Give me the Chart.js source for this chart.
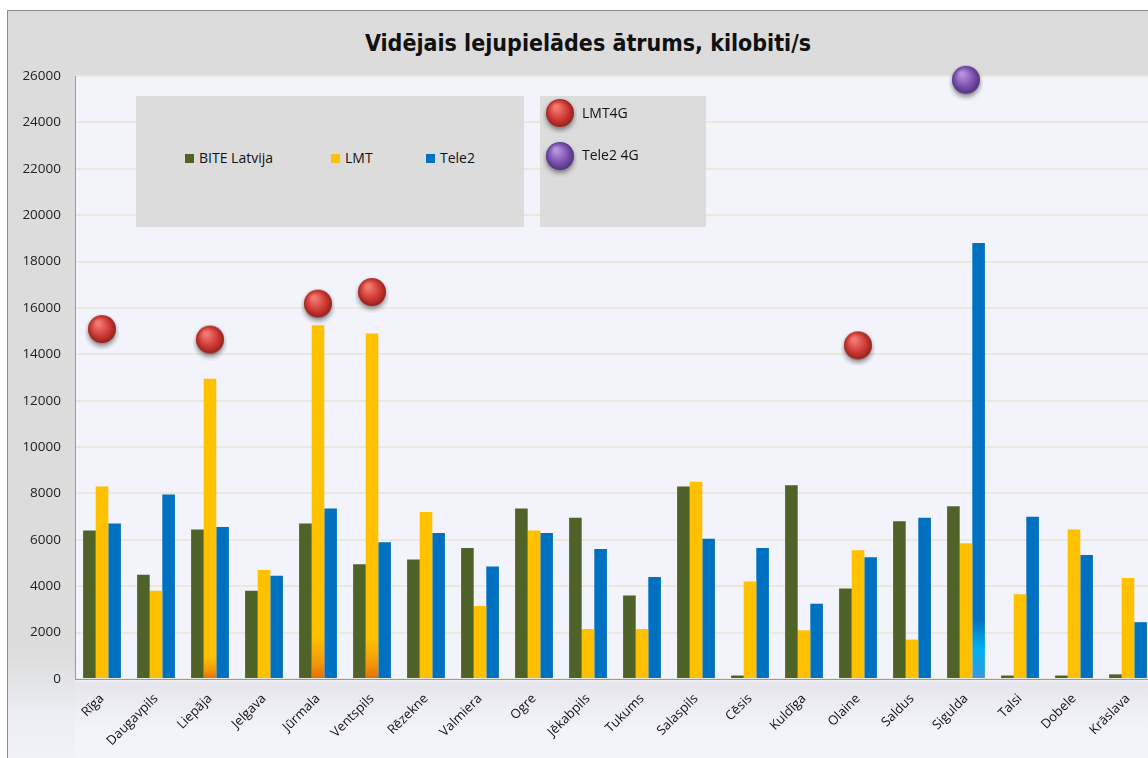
<!DOCTYPE html>
<html>
<head>
<meta charset="utf-8">
<script src="https://cdn.jsdelivr.net/npm/chart.js@4/dist/chart.umd.min.js"></script>
<style>
  body { margin: 0; width: 1148px; height: 758px; overflow: hidden; background: #fff; }
  #frame {
    position: absolute; left: 7px; top: 10px; width: 1160px; height: 760px;
    border-left: 1px solid #8c8c8c; border-top: 1px solid #8c8c8c;
    background: linear-gradient(#f2f3fb 0, #f2f3fb 668px, #e6e6ec 672px, #f3f4fb 720px);
  }
  #titleband {
    position: absolute; left: 0; top: 0; width: 100%; height: 65px; background: #dcdcdc;
    font-family: 'Liberation Sans Narrow', 'DejaVu Sans Condensed', sans-serif;
    font-weight: bold; font-size: 23px; color: #111; text-align: center; line-height: 64px;
  }
  #leftpanel {
    position: absolute; left: 0; top: 65px; width: 67px; height: 690px;
    background: linear-gradient(#dcdcdc 0, #dcdcdc 575px, #eceef3 640px, #f2f3f9 690px);
  }
  #chartbox { position: absolute; left: 0; top: 0; width: 1160px; height: 758px; }
  .legbox {
    position: absolute; background: #dcdcdc; font-family: 'Open Sans', sans-serif;
    font-size: 14px; color: #111;
  }
  .item { position: absolute; top: 52px; white-space: nowrap; }
  .sw { display: inline-block; width: 9px; height: 9px; margin-right: 5px; vertical-align: 0px; }
  .ball { position: absolute; left: 42px; white-space: nowrap; }
</style>
</head>
<body>
<div id="frame">
  <div id="titleband">Vidējais lejupielādes ātrums, kilobiti/s</div>
  <div id="leftpanel"></div>
</div>
<div id="chartbox"><canvas id="speedChart"></canvas></div>

<div class="legbox" style="left:136px; top:96px; width:388px; height:131px;">
  <span class="item" style="left:49px;"><span class="sw" style="background:#4f6228"></span>BITE Latvija</span>
  <span class="item" style="left:195px;"><span class="sw" style="background:#ffc000"></span>LMT</span>
  <span class="item" style="left:290px;"><span class="sw" style="background:#0070c0"></span>Tele2</span>
</div>
<div class="legbox" style="left:540px; top:96px; width:166px; height:131px;">
  <span class="ball" style="top:7px;">LMT4G</span>
  <span class="ball" style="top:49px;">Tele2 4G</span>
</div>
<canvas id="legendBalls" width="60" height="131" style="position:absolute; left:540px; top:96px;"></canvas>

<script>
// ------------------------
// DATA
// ------------------------

const cities = ['Rīga', 'Daugavpils', 'Liepāja', 'Jelgava', 'Jūrmala', 'Ventspils', 'Rēzekne',
  'Valmiera', 'Ogre', 'Jēkabpils', 'Tukums', 'Salaspils', 'Cēsis', 'Kuldīga', 'Olaine',
  'Saldus', 'Sigulda', 'Talsi', 'Dobele', 'Krāslava']

const bite = [6400, 4500, 6450, 3800, 6700, 4950, 5150, 5650, 7350, 6950, 3600, 8300, 150, 8350,
  3900, 6800, 7450, 150, 150, 200]
const lmt = [8300, 3800, 12950, 4700, 15250, 14900, 7200, 3150, 6400, 2150, 2150, 8500, 4200, 2100,
  5550, 1700, 5850, 3650, 6450, 4350]
const tele2 = [6700, 7950, 6550, 4450, 7350, 5900, 6300, 4850, 6300, 5600, 4400, 6050, 5650, 3250,
  5250, 6950, 18800, 7000, 5350, 2450]
const lmt4g = [15000, null, 14550, null, 16100, 16600, null, null, null, null, null, null, null, null,
  14300, null, null, null, null, null]
const tele24g = [null, null, null, null, null, null, null, null, null, null, null, null, null, null,
  null, null, 25750, null, null, null]

const yTicks = [0, 2000, 4000, 6000, 8000, 10000, 12000, 14000, 16000, 18000, 20000, 22000, 24000, 26000]

// ------------------------
// SHADED BALLS FOR 4G POINTS
// ------------------------

function makeBall(light, mid, dark) {
  const c = document.createElement('canvas')
  c.width = 34
  c.height = 38
  const g = c.getContext('2d')
  g.save()
  g.shadowColor = 'rgba(0,0,0,0.45)'
  g.shadowBlur = 5
  g.shadowOffsetY = 3
  const grad = g.createRadialGradient(13, 11, 2, 17, 17, 15)
  grad.addColorStop(0, light)
  grad.addColorStop(0.55, mid)
  grad.addColorStop(1, dark)
  g.fillStyle = grad
  g.beginPath()
  g.arc(17, 17, 14, 0, Math.PI * 2)
  g.fill()
  g.restore()
  return c
}

const redBall = makeBall('#f07a72', '#d23c36', '#8e1d1a')
const purpleBall = makeBall('#b393dc', '#7d55b2', '#4d2f78')

// legend balls
const lb = document.querySelector('#legendBalls').getContext('2d')
lb.drawImage(redBall, 3, 0)
lb.drawImage(purpleBall, 3, 43)

// ------------------------
// BAR FILLS
// ------------------------

const lmtShade = { 2: 22, 4: 42, 5: 40 }

function lmtFill(ctx) {
  const area = ctx.chart.chartArea
  const h = lmtShade[ctx.dataIndex]
  if (!area || !h) return '#ffc000'
  const g = ctx.chart.ctx.createLinearGradient(0, area.bottom - h, 0, area.bottom)
  g.addColorStop(0, '#ffc000')
  g.addColorStop(0.6, '#f29a08')
  g.addColorStop(1, '#e46c0a')
  return g
}

function tele2Fill(ctx) {
  const area = ctx.chart.chartArea
  if (!area || ctx.dataIndex !== 16) return '#0070c0'
  const g = ctx.chart.ctx.createLinearGradient(0, area.bottom - 60, 0, area.bottom)
  g.addColorStop(0, '#0070c0')
  g.addColorStop(0.5, '#00b0f0')
  g.addColorStop(1, '#3a98dc')
  return g
}

// ------------------------
// CHART
// ------------------------

const speedCanvas = document.querySelector('#speedChart')

const speedData = {
  labels: cities,
  datasets: [
    { type: 'line', label: 'LMT4G', data: lmt4g, showLine: false, pointStyle: redBall,
      clip: false, order: 1 },
    { type: 'line', label: 'Tele2 4G', data: tele24g, showLine: false, pointStyle: purpleBall,
      clip: false, order: 1 },
    { label: 'BITE Latvija', data: bite, backgroundColor: '#4f6228', order: 2 },
    { label: 'LMT', data: lmt, backgroundColor: lmtFill, order: 2 },
    { label: 'Tele2', data: tele2, backgroundColor: tele2Fill, order: 2 }
  ]
}

const speedOptions = {
  responsive: false,
  animation: false,
  layout: { padding: { top: 76, right: 5, left: 0, bottom: 0 } },
  datasets: {
    bar: { categoryPercentage: 0.7, barPercentage: 1.0, borderWidth: 0 }
  },
  scales: {
    x: {
      grid: { display: false },
      border: { color: '#9a9a9a', width: 1 },
      ticks: {
        color: '#111', maxRotation: 45, minRotation: 45, padding: 4,
        font: { family: 'Open Sans', size: 13 }
      },
      afterFit: (scale) => { scale.height = 79 }
    },
    y: {
      min: 0,
      max: 26000,
      afterBuildTicks: (scale) => { scale.ticks = yTicks.map(v => ({ value: v })) },
      grid: { color: '#ebe8dc', lineWidth: 2, drawTicks: false },
      border: { color: '#9a9a9a', width: 1 },
      ticks: {
        color: '#222', padding: 14,
        font: { family: 'Open Sans', size: 13.5 },
        callback: (v) => String(v)
      },
      afterFit: (scale) => { scale.width = 75 }
    }
  },
  plugins: {
    legend: { display: false },
    tooltip: { enabled: false }
  }
}

speedCanvas.width = 1160
speedCanvas.height = 758

let speedChart = new Chart(speedCanvas, {
  type: 'bar',
  data: speedData,
  options: speedOptions
})
</script>
</body>
</html>
